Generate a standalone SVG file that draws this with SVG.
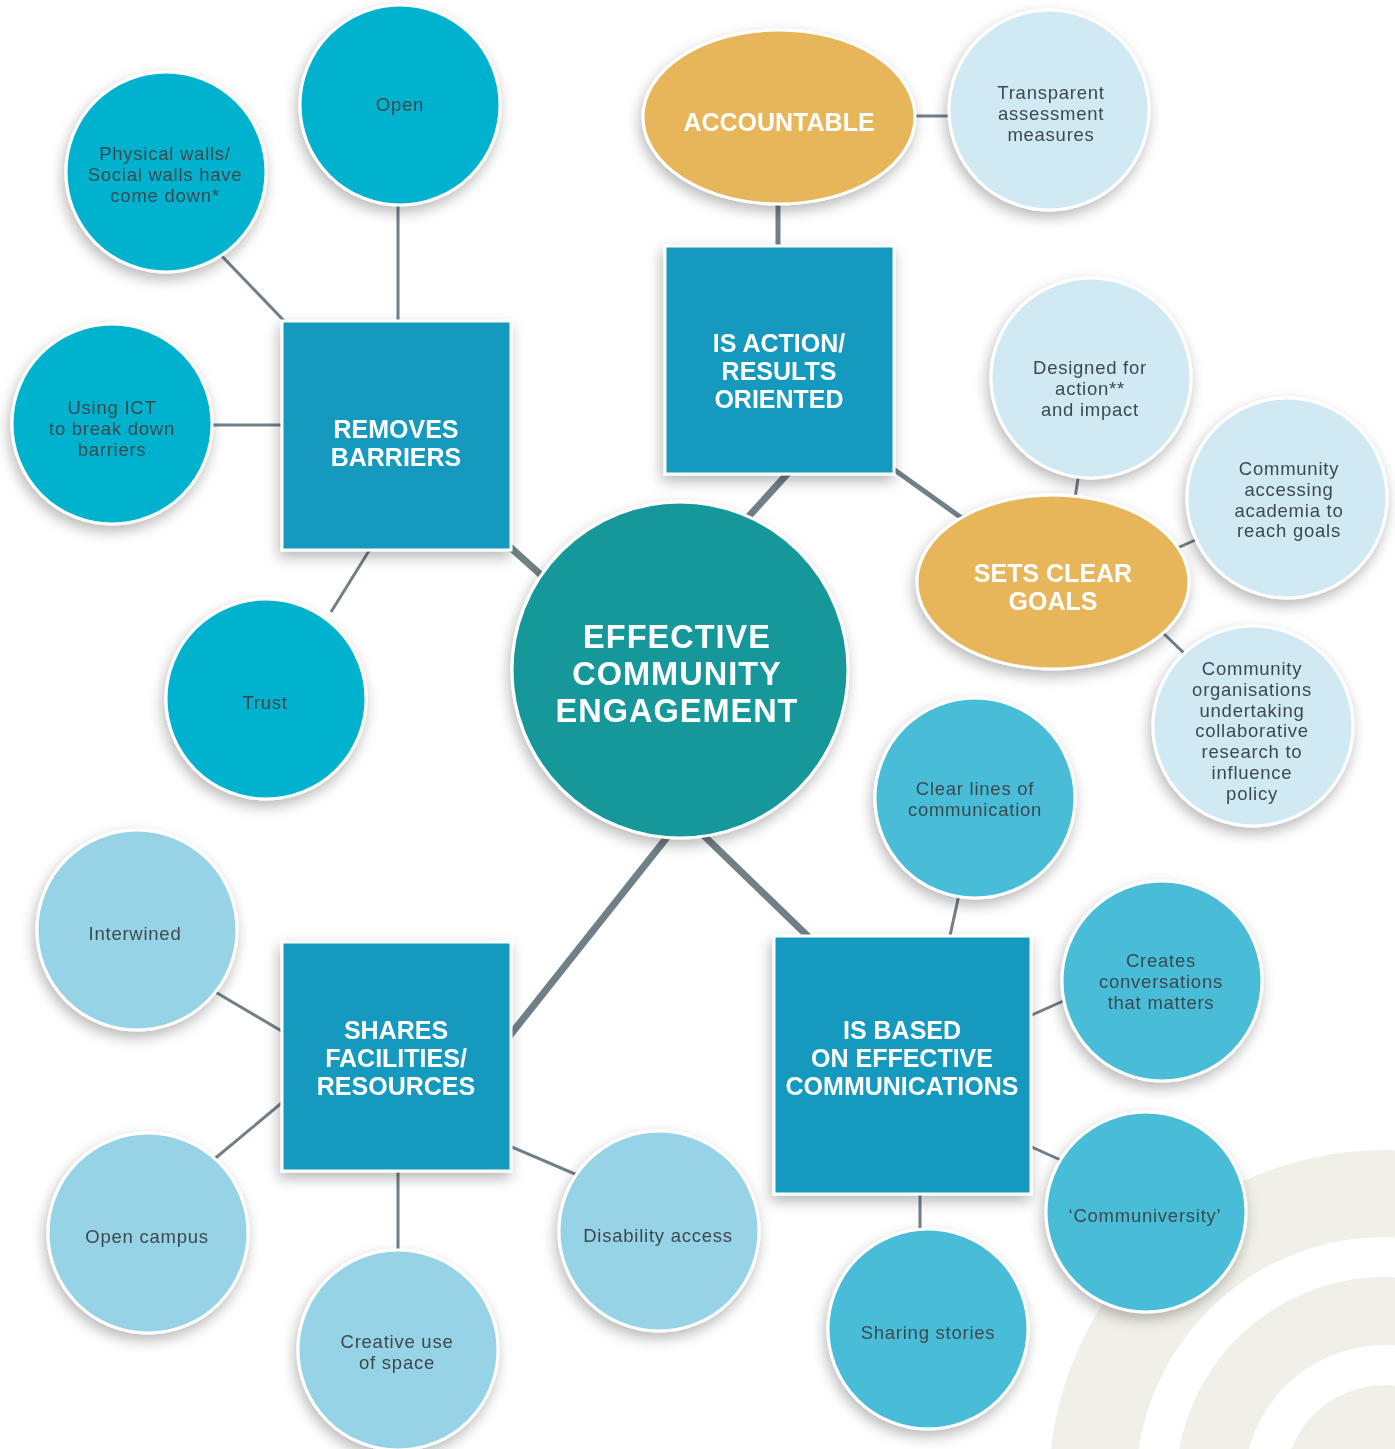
<svg xmlns="http://www.w3.org/2000/svg" width="1395" height="1449" viewBox="0 0 1395 1449">
  <defs>
    <filter id="shadow" x="-30%" y="-30%" width="160%" height="160%">
      <feDropShadow dx="-2" dy="6" stdDeviation="7" flood-color="#000" flood-opacity="0.28"/>
    </filter>
    <style>
      .bg { fill: #ffffff; }
      .ring { fill: #f1f0e8; }
      .hole { fill: #ffffff; }
      .main { stroke: #717f87; stroke-width: 7; stroke-linecap: butt; }
      .mid { stroke: #717f87; stroke-width: 5; }
      .sub { stroke: #717f87; stroke-width: 3; }
      .node { filter: url(#shadow); }
      .core { fill: #13979a; stroke: #ffffff; stroke-width: 3; }
      .box { fill: #1499bf; stroke: #ffffff; stroke-width: 3; }
      .gold { fill: #e8b65a; stroke: #ffffff; stroke-width: 3; }
      .c-cyan { fill: #00b2ce; stroke: #ffffff; stroke-width: 3; }
      .c-pale { fill: #d1e9f3; stroke: #ffffff; stroke-width: 3; }
      .c-mid { fill: #48bcd8; stroke: #ffffff; stroke-width: 3; }
      .c-soft { fill: #96d3e6; stroke: #ffffff; stroke-width: 3; }
      .head { font-family: "Liberation Sans", Arial, sans-serif; font-weight: 700; fill: #ffffff; text-anchor: middle; font-size: 25px; }
      .title { font-family: "Liberation Sans", Arial, sans-serif; font-weight: 700; fill: #ffffff; text-anchor: middle; font-size: 32.5px; letter-spacing: 1px; }
      .lbl { font-family: "Liberation Sans", Arial, sans-serif; font-weight: 400; fill: #3b4a50; text-anchor: middle; font-size: 18.5px; letter-spacing: 0.75px; }
    </style>
  </defs>

  <rect class="bg" x="0" y="0" width="1395" height="1449"/>

  <!-- concentric rings, bottom right -->
  <g id="rings">
    <circle class="ring" cx="1385" cy="1486" r="336"/>
    <circle class="hole" cx="1385" cy="1486" r="249"/>
    <circle class="ring" cx="1385" cy="1486" r="209"/>
    <circle class="hole" cx="1385" cy="1486" r="141"/>
    <circle class="ring" cx="1385" cy="1486" r="101"/>
  </g>

  <!-- connectors -->
  <g id="connectors">
    <line class="main" x1="500" y1="538" x2="560" y2="592"/>
    <line class="main" x1="800" y1="460" x2="730" y2="537"/>
    <line class="main" x1="500" y1="1048" x2="672" y2="831"/>
    <line class="main" x1="695" y1="827" x2="820" y2="948"/>
    <line class="mid" x1="778" y1="195" x2="778" y2="255"/>
    <line class="mid" x1="885" y1="463" x2="970" y2="524"/>

    <line class="sub" x1="398" y1="200" x2="398" y2="330"/>
    <line class="sub" x1="218" y1="252" x2="290" y2="327"/>
    <line class="sub" x1="205" y1="425" x2="290" y2="425"/>
    <line class="sub" x1="331" y1="612" x2="372" y2="546"/>

    <line class="sub" x1="905" y1="116" x2="955" y2="116"/>
    <line class="sub" x1="1079" y1="472" x2="1074" y2="505"/>
    <line class="sub" x1="1175" y1="549" x2="1200" y2="538"/>
    <line class="sub" x1="1160" y1="630" x2="1188" y2="657"/>

    <line class="sub" x1="960" y1="890" x2="948" y2="945"/>
    <line class="sub" x1="1025" y1="1018" x2="1070" y2="998"/>
    <line class="sub" x1="1025" y1="1144" x2="1065" y2="1162"/>
    <line class="sub" x1="920" y1="1185" x2="920" y2="1236"/>

    <line class="sub" x1="505" y1="1144" x2="582" y2="1177"/>
    <line class="sub" x1="398" y1="1165" x2="398" y2="1258"/>
    <line class="sub" x1="212" y1="1161" x2="290" y2="1096"/>
    <line class="sub" x1="212" y1="990" x2="290" y2="1036"/>
  </g>

  <!-- REMOVES BARRIERS branch -->
  <g id="open" class="node">
    <circle class="c-cyan" cx="400" cy="105" r="100"/>
    <text class="lbl" x="400" y="111">Open</text>
  </g>
  <g id="physical-walls" class="node">
    <circle class="c-cyan" cx="166" cy="172" r="100"/>
    <text class="lbl" x="165" y="160">Physical walls/<tspan x="165" dy="20.8">Social walls have</tspan><tspan x="165" dy="20.8">come down*</tspan></text>
  </g>
  <g id="using-ict" class="node">
    <circle class="c-cyan" cx="112" cy="424" r="100"/>
    <text class="lbl" x="112" y="414">Using ICT<tspan x="112" dy="20.8">to break down</tspan><tspan x="112" dy="20.8">barriers</tspan></text>
  </g>
  <g id="trust" class="node">
    <circle class="c-cyan" cx="266" cy="699" r="100"/>
    <text class="lbl" x="265" y="709">Trust</text>
  </g>
  <g id="removes-barriers" class="node">
    <rect class="box" x="282" y="321" width="229" height="229"/>
    <text class="head" x="396" y="438">REMOVES<tspan x="396" dy="28">BARRIERS</tspan></text>
  </g>

  <!-- ACTION / RESULTS branch -->
  <g id="transparent" class="node">
    <circle class="c-pale" cx="1049" cy="110" r="100"/>
    <text class="lbl" x="1051" y="99">Transparent<tspan x="1051" dy="20.8">assessment</tspan><tspan x="1051" dy="20.8">measures</tspan></text>
  </g>
  <g id="accountable" class="node">
    <ellipse class="gold" cx="779" cy="117" rx="136" ry="87"/>
    <text class="head" x="779" y="131">ACCOUNTABLE</text>
  </g>
  <g id="action-results" class="node">
    <rect class="box" x="665" y="246" width="229" height="228"/>
    <text class="head" x="779" y="352">IS ACTION/<tspan x="779" dy="28">RESULTS</tspan><tspan x="779" dy="28">ORIENTED</tspan></text>
  </g>
  <g id="designed-for-action" class="node">
    <circle class="c-pale" cx="1091" cy="378" r="100"/>
    <text class="lbl" x="1090" y="374">Designed for<tspan x="1090" dy="20.8">action**</tspan><tspan x="1090" dy="20.8">and impact</tspan></text>
  </g>
  <g id="community-accessing" class="node">
    <circle class="c-pale" cx="1287" cy="498" r="100"/>
    <text class="lbl" x="1289" y="475">Community<tspan x="1289" dy="20.8">accessing</tspan><tspan x="1289" dy="20.8">academia to</tspan><tspan x="1289" dy="20.8">reach goals</tspan></text>
  </g>
  <g id="community-organisations" class="node">
    <circle class="c-pale" cx="1253" cy="726" r="100"/>
    <text class="lbl" x="1252" y="675">Community<tspan x="1252" dy="20.8">organisations</tspan><tspan x="1252" dy="20.8">undertaking</tspan><tspan x="1252" dy="20.8">collaborative</tspan><tspan x="1252" dy="20.8">research to</tspan><tspan x="1252" dy="20.8">influence</tspan><tspan x="1252" dy="20.8">policy</tspan></text>
  </g>
  <g id="sets-clear-goals" class="node">
    <ellipse class="gold" cx="1053" cy="582" rx="136" ry="87"/>
    <text class="head" x="1053" y="582">SETS CLEAR<tspan x="1053" dy="28">GOALS</tspan></text>
  </g>

  <!-- COMMUNICATIONS branch -->
  <g id="clear-lines" class="node">
    <circle class="c-mid" cx="975" cy="798" r="100"/>
    <text class="lbl" x="975" y="795">Clear lines of<tspan x="975" dy="20.8">communication</tspan></text>
  </g>
  <g id="creates-conversations" class="node">
    <circle class="c-mid" cx="1162" cy="981" r="100"/>
    <text class="lbl" x="1161" y="967">Creates<tspan x="1161" dy="20.8">conversations</tspan><tspan x="1161" dy="20.8">that matters</tspan></text>
  </g>
  <g id="communiversity" class="node">
    <circle class="c-mid" cx="1146" cy="1212" r="100"/>
    <text class="lbl" x="1145" y="1222">‘Communiversity’</text>
  </g>
  <g id="sharing-stories" class="node">
    <circle class="c-mid" cx="928" cy="1329" r="100"/>
    <text class="lbl" x="928" y="1339">Sharing stories</text>
  </g>
  <g id="effective-communications" class="node">
    <rect class="box" x="774" y="936" width="257" height="258"/>
    <text class="head" x="902" y="1039">IS BASED<tspan x="902" dy="28">ON EFFECTIVE</tspan><tspan x="902" dy="28">COMMUNICATIONS</tspan></text>
  </g>

  <!-- FACILITIES / RESOURCES branch -->
  <g id="interwined" class="node">
    <circle class="c-soft" cx="137" cy="930" r="100"/>
    <text class="lbl" x="135" y="940">Interwined</text>
  </g>
  <g id="open-campus" class="node">
    <circle class="c-soft" cx="148" cy="1233" r="100"/>
    <text class="lbl" x="147" y="1243">Open campus</text>
  </g>
  <g id="creative-use" class="node">
    <circle class="c-soft" cx="398" cy="1350" r="100"/>
    <text class="lbl" x="397" y="1348">Creative use<tspan x="397" dy="20.8">of space</tspan></text>
  </g>
  <g id="disability-access" class="node">
    <circle class="c-soft" cx="659" cy="1231" r="100"/>
    <text class="lbl" x="658" y="1242">Disability access</text>
  </g>
  <g id="shares-facilities" class="node">
    <rect class="box" x="282" y="942" width="229" height="229"/>
    <text class="head" x="396" y="1039">SHARES<tspan x="396" dy="28">FACILITIES/</tspan><tspan x="396" dy="28">RESOURCES</tspan></text>
  </g>

  <!-- central hub -->
  <g id="effective-community-engagement" class="node">
    <circle class="core" cx="680" cy="670" r="168"/>
    <text class="title" x="677" y="648">EFFECTIVE<tspan x="677" dy="37">COMMUNITY</tspan><tspan x="677" dy="37">ENGAGEMENT</tspan></text>
  </g>
</svg>
